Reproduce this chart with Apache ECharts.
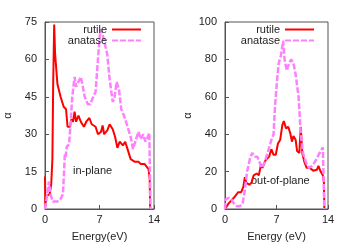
<!DOCTYPE html>
<html>
<head>
<meta charset="utf-8">
<script src="https://cdn.jsdelivr.net/npm/echarts@6/dist/echarts.min.js"></script>
<style>html,body{margin:0;padding:0;background:#fff}#c{width:347px;height:243px}</style>
</head>
<body>
<div id="c"></div>
<script>
// ---- data ----
const inRutileX = [0, 0.05, 0.15, 0.3, 0.6, 0.8, 0.95, 1.05, 1.18, 1.3, 1.6, 2.0, 2.4, 2.7, 2.9, 3.2, 3.4, 3.6, 3.8, 4.0, 4.3, 4.6, 5.0, 5.3, 5.7, 6.0, 6.5, 6.8, 7.2, 7.4, 7.6, 8.0, 8.3, 8.7, 9.0, 9.3, 9.6, 10.0, 10.3, 10.6, 11.0, 11.5, 12.0, 12.3, 12.8, 13.0, 13.3, 13.45, 13.5];
const inRutileY = [13, 1, 5, 5.5, 6, 10, 20, 50, 74, 62, 50, 45, 41, 40, 33, 33, 36, 35, 39, 35, 37.5, 35, 33, 35, 36.5, 34, 33, 30, 31, 33.5, 30, 31.5, 34, 32, 29, 24.5, 27, 25.5, 27, 24, 20, 19, 19, 18, 18, 17.5, 16, 12, 0];
const inAnataseX = [0, 0.2, 0.5, 0.7, 1.0, 1.2, 1.6, 2.0, 2.3, 2.45, 2.55, 2.65, 2.8, 3.1, 3.3, 3.5, 3.8, 4.0, 4.3, 4.6, 4.8, 5.1, 5.5, 5.8, 6.2, 6.5, 6.8, 7.1, 7.4, 7.7, 8.0, 8.3, 8.7, 8.9, 9.2, 9.5, 9.8, 10.2, 10.6, 11.0, 11.3, 11.7, 12.0, 12.3, 12.6, 12.9, 13.2, 13.4, 13.55];
const inAnataseY = [0, 4, 11, 6, 3, 2.5, 3, 4, 6, 15, 22, 21, 25, 26, 35, 45, 53, 49, 51, 53, 50, 45, 42, 42, 45, 47, 60, 72, 70, 66, 62, 52, 43, 44, 51, 48, 40, 37, 33, 29, 24, 28, 31, 28, 30, 27, 29, 30.5, 0];
const outRutileX = [0, 0.5, 1.2, 1.8, 2.2, 2.5, 2.7, 2.9, 3.3, 3.6, 3.9, 4.3, 4.6, 4.9, 5.1, 5.5, 5.7, 6.0, 6.3, 6.6, 6.9, 7.2, 7.5, 7.8, 8.0, 8.3, 8.6, 8.9, 9.1, 9.3, 9.6, 9.8, 10.1, 10.3, 10.5, 10.8, 11.1, 11.5, 12.0, 12.5, 12.7, 13.0, 13.3, 13.45, 13.5];
const outRutileY = [0, 3, 6, 9, 9, 12, 17, 14, 13, 14, 18, 19, 18, 24, 22, 26, 25, 28, 32, 29, 29, 35, 37, 45, 47, 43, 44, 40, 36, 39, 37, 31, 30, 44, 30, 25, 22, 22, 20.5, 21, 23, 20, 18, 14, 0];
const outAnataseX = [0, 0.05, 0.2, 0.5, 0.9, 1.2, 1.6, 2.0, 2.4, 2.7, 3.0, 3.4, 3.7, 4.0, 4.4, 4.7, 5.0, 5.4, 5.8, 6.3, 6.6, 6.8, 7.1, 7.3, 7.6, 7.9, 8.1, 8.4, 8.7, 9.0, 9.3, 9.6, 10.0, 10.3, 10.6, 11.0, 11.4, 11.8, 12.2, 12.6, 13.0, 13.3, 13.5];
const outAnataseY = [0, 5, 5, 6, 5, 3, 1.5, 1.5, 3, 10, 20, 27, 30, 28, 28, 25, 22, 25, 30, 37, 40, 55, 70, 78, 82, 90, 80, 74, 78, 80, 78, 72, 60, 40, 30, 25, 22, 23, 25, 28, 31, 33, 0];
const seriesNames = ['rutile', 'anatase'];
const xTicks = [0, 7, 14];
const yLeftMax = 75, yLeftStep = 15;
const yRightMax = 100, yRightStep = 20;
const panelLabels = ['in-plane', 'out-of-plane'];
const xNames = ['Energy(eV)', 'Energy (eV)'];
const yName = 'α';

// ---- chart ----
const zip = (xs, ys) => xs.map((x, i) => [x, ys[i]]);
const FONT = 'Liberation Sans, Arial, sans-serif';
const axisCol = '#555';
const txtCol = '#222';
const RED = '#ff0000';
const PINK = '#ff80ff';

function xAxis(i) {
  return {
    type: 'value', gridIndex: i, min: xTicks[0], max: xTicks[xTicks.length - 1], interval: xTicks[1] - xTicks[0],
    name: xNames[i], nameLocation: 'middle', nameGap: 22,
    nameTextStyle: { fontFamily: FONT, fontSize: 11, color: txtCol },
    axisLine: { show: true, lineStyle: { color: axisCol } },
    axisTick: { show: true, inside: true, length: 4, lineStyle: { color: axisCol } },
    axisLabel: { fontFamily: FONT, fontSize: 11, color: txtCol, margin: 5, showMinLabel: true, showMaxLabel: true },
    splitLine: { show: false }
  };
}
function yAxis(i, max, step) {
  return {
    type: 'value', gridIndex: i, min: 0, max: max, interval: step,
    name: yName, nameLocation: 'middle', nameGap: 32, nameRotate: 90,
    nameTextStyle: { fontFamily: FONT, fontSize: 11, color: txtCol },
    axisLine: { show: true, lineStyle: { color: axisCol } },
    axisTick: { show: true, inside: true, length: 4, lineStyle: { color: axisCol } },
    axisLabel: { fontFamily: FONT, fontSize: 11, color: txtCol, margin: 8 },
    splitLine: { show: false }
  };
}
function line(name, i, data, color, dashed) {
  return {
    type: 'line', name: name, xAxisIndex: i, yAxisIndex: i, data: data,
    showSymbol: false, symbol: 'none', smooth: false,
    lineStyle: { color: color, width: dashed ? 2.5 : 2, type: dashed ? [6, 2] : 'solid' },
    itemStyle: { color: color }, animation: false, z: dashed ? 3 : 2
  };
}
function legend(right) {
  return {
    orient: 'vertical', right: right, top: 19, align: 'right',
    itemWidth: 29, itemHeight: 8, itemGap: 0,
    itemStyle: { opacity: 0 },
    data: seriesNames,
    textStyle: { fontFamily: FONT, fontSize: 11, lineHeight: 11, color: txtCol },
    selectedMode: false
  };
}

const chart = echarts.init(document.getElementById('c'), null, { renderer: 'canvas' });
chart.setOption({
  animation: false,
  backgroundColor: '#fff',
  grid: [
    { left: 45, right: 193, top: 22, bottom: 34, show: true, borderColor: axisCol, borderWidth: 1, containLabel: false, outerBoundsMode: 'none' },
    { left: 225, right: 19, top: 22, bottom: 34, show: true, borderColor: axisCol, borderWidth: 1, containLabel: false, outerBoundsMode: 'none' }
  ],
  xAxis: [xAxis(0), xAxis(1)],
  yAxis: [yAxis(0, yLeftMax, yLeftStep), yAxis(1, yRightMax, yRightStep)],
  legend: [legend(200), legend(27)],
  graphic: [
    { type: 'text', left: 73, top: 165, style: { text: panelLabels[0], font: '11px ' + FONT, fill: txtCol } },
    { type: 'text', left: 251, top: 175, style: { text: panelLabels[1], font: '11px ' + FONT, fill: txtCol } }
  ],
  series: [
    line('rutile', 0, zip(inRutileX, inRutileY), RED, false),
    line('anatase', 0, zip(inAnataseX, inAnataseY), PINK, true),
    line('rutile', 1, zip(outRutileX, outRutileY), RED, false),
    line('anatase', 1, zip(outAnataseX, outAnataseY), PINK, true)
  ]
});
</script>
</body>
</html>
